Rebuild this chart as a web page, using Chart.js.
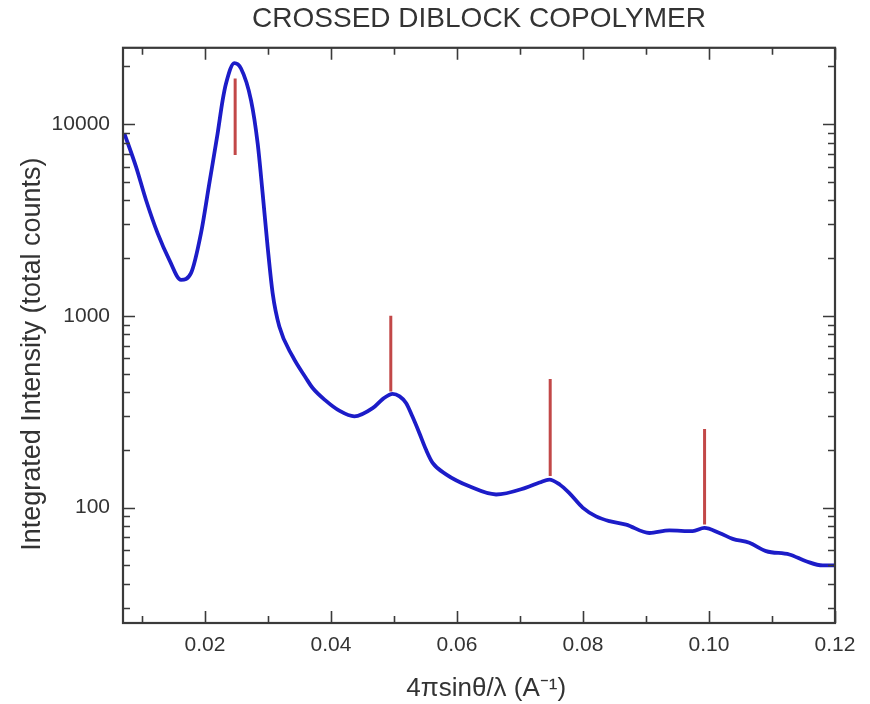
<!DOCTYPE html>
<html>
<head>
<meta charset="utf-8">
<script src="https://cdn.jsdelivr.net/npm/chart.js@4.4.1/dist/chart.umd.min.js"></script>
<style>
  html, body { margin: 0; padding: 0; background: #ffffff; }
  #wrap { width: 870px; height: 704px; }
</style>
</head>
<body>
<div id="wrap"><canvas id="c" width="870" height="704"></canvas></div>
<script>
// ---- data ----
const qValues = [0.00721, 0.00906, 0.01065, 0.01249, 0.01435, 0.01621, 0.01779, 0.01938, 0.0207, 0.02202,
  0.02281, 0.02335, 0.02467, 0.02573, 0.02732, 0.02837, 0.02916, 0.02995, 0.03075, 0.03181,
  0.03392, 0.03605, 0.0371, 0.03922, 0.04133, 0.04371, 0.04662, 0.0483, 0.04979, 0.0509,
  0.05192, 0.0529, 0.05403, 0.0551, 0.05614, 0.05827, 0.06197, 0.06621, 0.07097, 0.0731,
  0.07467, 0.0763, 0.07784, 0.07995, 0.08208, 0.0842, 0.08684, 0.09054, 0.09372, 0.09741,
  0.09927, 0.10165, 0.10376, 0.10641, 0.10906, 0.11276, 0.11541, 0.11805, 0.1199];
const intensity = [8950, 6000, 4020, 2700, 1960, 1540, 1670, 2700, 4910, 8950,
  13300, 16300, 20800, 19500, 13300, 7940, 4360, 2300, 1313, 880,
  614, 473, 420, 360, 320, 299, 330, 370, 392, 380,
  351, 300, 245, 200, 171, 149, 129, 117, 127, 135,
  140, 132, 119, 100, 90, 85, 81.5, 73.7, 76, 75.3,
  78.3, 73.7, 68.7, 65.5, 59.3, 56.9, 52.5, 49.9, 49.9];

const markerQ = [0.0248, 0.0495, 0.0748, 0.0993];
const markerLow = [6900, 403, 146, 81.5];
const markerHigh = [17300, 1000, 468, 257];

const xMajorTicks = [0.02, 0.04, 0.06, 0.08, 0.10, 0.12];
const xMinorTicks = [0.01, 0.03, 0.05, 0.07, 0.09, 0.11];
const yMajorTicks = [100, 1000, 10000];
const yMinorTicks = [30, 40, 50, 60, 70, 80, 90, 200, 300, 400, 500, 600, 700, 800, 900,
  2000, 3000, 4000, 5000, 6000, 7000, 8000, 9000, 20000];

const titleText = 'CROSSED DIBLOCK COPOLYMER';
const xTitle = '4\u03C0sin\u03B8/\u03BB (A\u207B\u00B9)';
const yTitle = 'Integrated Intensity (total counts)';

// ---- chart ----
const FONT = "'Liberation Sans', Arial, Helvetica, sans-serif";
const TEXT = '#333333';
const AXIS = '#3a3a3a';

const curve = qValues.map((q, i) => ({ x: q, y: intensity[i] }));
const markerSets = markerQ.map((q, i) => ({
  data: [{ x: q, y: markerLow[i] }, { x: q, y: markerHigh[i] }],
  borderColor: '#c24848',
  borderWidth: 3,
  pointRadius: 0,
  tension: 0
}));

const frameTicks = {
  id: 'frameTicks',
  afterDatasetsDraw(chart) {
    const { ctx, chartArea: a, scales: { x, y } } = chart;
    ctx.save();
    ctx.strokeStyle = AXIS;
    ctx.lineWidth = 1.6;
    ctx.beginPath();
    const vt = (v, len) => {
      const px = Math.round(x.getPixelForValue(v)) + 0.5;
      ctx.moveTo(px, a.bottom); ctx.lineTo(px, a.bottom - len);
      ctx.moveTo(px, a.top); ctx.lineTo(px, a.top + len);
    };
    const ht = (v, len) => {
      const py = Math.round(y.getPixelForValue(v)) + 0.5;
      ctx.moveTo(a.left, py); ctx.lineTo(a.left + len, py);
      ctx.moveTo(a.right, py); ctx.lineTo(a.right - len, py);
    };
    xMajorTicks.forEach(v => vt(v, 12));
    xMinorTicks.forEach(v => vt(v, 7));
    yMajorTicks.forEach(v => ht(v, 12));
    yMinorTicks.forEach(v => ht(v, 7));
    ctx.stroke();
    ctx.lineWidth = 2.2;
    ctx.strokeRect(a.left, a.top, a.right - a.left, a.bottom - a.top);
    ctx.restore();
  }
};

new Chart(document.getElementById('c'), {
  type: 'line',
  data: {
    datasets: [
      {
        data: curve,
        borderColor: '#1c1cc8',
        borderWidth: 3.8,
        pointRadius: 0,
        cubicInterpolationMode: 'monotone'
      },
      ...markerSets
    ]
  },
  options: {
    responsive: false,
    animation: false,
    events: [],
    layout: { padding: { left: 0, right: 35, top: 0, bottom: 0 } },
    plugins: {
      legend: { display: false },
      tooltip: { enabled: false },
      title: {
        display: true,
        fullSize: false,
        text: titleText,
        color: TEXT,
        font: { family: FONT, size: 28, weight: 'normal', lineHeight: 1.1 },
        padding: { top: 4, bottom: 13 }
      }
    },
    scales: {
      x: {
        type: 'linear',
        min: 0.007,
        max: 0.12,
        afterBuildTicks: s => { s.ticks = xMajorTicks.map(v => ({ value: v })); },
        afterFit: s => { s.height = 81; },
        grid: { display: false, drawTicks: false },
        border: { display: false },
        ticks: {
          color: TEXT,
          padding: 10,
          maxRotation: 0,
          font: { family: FONT, size: 21 },
          callback: v => Number(v).toFixed(2)
        },
        title: {
          display: true,
          text: '  ' + xTitle,
          color: TEXT,
          font: { family: FONT, size: 26, lineHeight: 1.2 },
          padding: { top: 0, bottom: 0 }
        }
      },
      y: {
        type: 'logarithmic',
        min: 25,
        max: 25000,
        afterBuildTicks: s => { s.ticks = yMajorTicks.map(v => ({ value: v })); },
        afterFit: s => { s.width = 123; },
        grid: { display: false, drawTicks: false },
        border: { display: false },
        ticks: {
          color: TEXT,
          padding: 13,
          font: { family: FONT, size: 21 },
          callback: v => String(v)
        },
        title: {
          display: true,
          text: yTitle + '     ',
          color: TEXT,
          font: { family: FONT, size: 27, lineHeight: 1.2 },
          padding: { top: 16, bottom: 0 }
        }
      }
    }
  },
  plugins: [frameTicks]
});
</script>
</body>
</html>
